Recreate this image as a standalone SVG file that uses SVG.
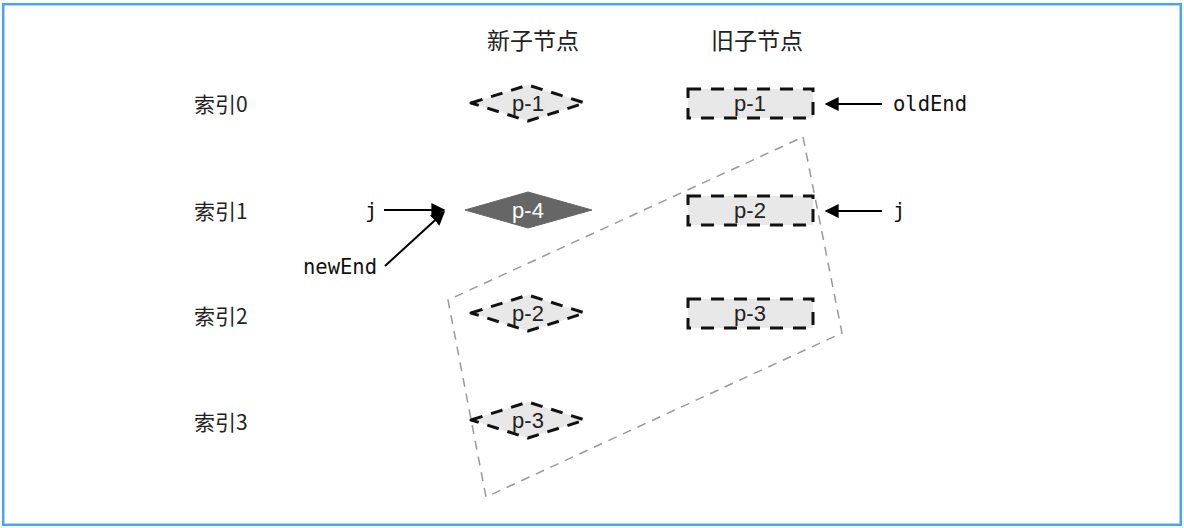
<svg xmlns="http://www.w3.org/2000/svg" width="1184" height="528" viewBox="0 0 1184 528">
  <defs>
    <marker id="arrowBig" viewBox="0 0 10 10" refX="9" refY="5" markerWidth="14" markerHeight="14" orient="auto" markerUnits="userSpaceOnUse">
      <path d="M0,0 L10,5 L0,10 Z" fill="#000"/>
    </marker>
  </defs>
  <style>
    .cjk { font-family: "Noto Sans CJK SC", "Noto Sans", sans-serif; fill: #222; }
    .head { font-size: 23px; text-anchor: middle; }
    .idx { font-size: 21px; }
    .mono { font-family: "DejaVu Sans Mono", "Liberation Mono", monospace; font-size: 20.5px; fill: #111; }
    .lbl { font-family: "Liberation Sans", Arial, sans-serif; font-size: 22px; fill: #222; text-anchor: middle; }
    .lblw { font-family: "Liberation Sans", Arial, sans-serif; font-size: 22px; fill: #fff; text-anchor: middle; }
    .dnode { fill: #e8e8e8; stroke: #111; stroke-width: 3; stroke-dasharray: 13 10; }
    .diam { stroke-linejoin: round; stroke-dasharray: 12 9; }
    .solid { fill: #666; stroke: #666; stroke-width: 1; }
    .conn { stroke: #000; stroke-width: 2; fill: none; }
    .group { fill: none; stroke: #999; stroke-width: 1.5; stroke-dasharray: 9 7; }
  </style>

  <rect x="0" y="0" width="1184" height="528" fill="#fff"/>
  <rect x="3.2" y="4.2" width="1177.6" height="520.6" fill="none" stroke="#4aa3ef" stroke-width="2.5"/>

  <!-- column headers -->
  <g id="headers">
    <text class="cjk head" x="533" y="49">新子节点</text>
    <text class="cjk head" x="757" y="49">旧子节点</text>
  </g>

  <!-- row indices -->
  <g id="indices">
    <text class="cjk idx" x="194" y="112">索引0</text>
    <text class="cjk idx" x="194" y="219">索引1</text>
    <text class="cjk idx" x="194" y="324">索引2</text>
    <text class="cjk idx" x="194" y="430">索引3</text>
  </g>

  <!-- dashed region around the unprocessed range -->
  <g id="range">
    <polygon class="group" points="803,137 842,333 486,497 448,300"/>
  </g>

  <!-- new children -->
  <g id="new-p1">
    <polygon class="dnode diam" points="471,103 528,85 585,103 528,121"/>
    <text class="lbl" x="528" y="111">p-1</text>
  </g>
  <g id="new-p4">
    <polygon class="solid" points="465,210 528,192 592,210 528,228"/>
    <text class="lblw" x="528" y="218">p-4</text>
  </g>
  <g id="new-p2">
    <polygon class="dnode diam" points="471,313 528,295 585,313 528,331"/>
    <text class="lbl" x="528" y="321">p-2</text>
  </g>
  <g id="new-p3">
    <polygon class="dnode diam" points="471,420 528,402 585,420 528,438"/>
    <text class="lbl" x="528" y="428">p-3</text>
  </g>

  <!-- old children -->
  <g id="old-p1">
    <rect class="dnode" x="688" y="89" width="125" height="29"/>
    <text class="lbl" x="750" y="111">p-1</text>
  </g>
  <g id="old-p2">
    <rect class="dnode" x="688" y="196" width="125" height="29"/>
    <text class="lbl" x="750" y="218">p-2</text>
  </g>
  <g id="old-p3">
    <rect class="dnode" x="688" y="299" width="125" height="29"/>
    <text class="lbl" x="750" y="321">p-3</text>
  </g>

  <!-- pointer labels -->
  <g id="pointers">
    <text class="mono" x="893" y="111">oldEnd</text>
    <text class="mono" x="893" y="218">j</text>
    <text class="mono" x="365" y="218">j</text>
    <text class="mono" x="303" y="274">newEnd</text>
  </g>

  <!-- connectors -->
  <g id="connectors">
    <line class="conn" x1="882" y1="104" x2="826" y2="104" marker-end="url(#arrowBig)"/>
    <line class="conn" x1="882" y1="211" x2="826" y2="211" marker-end="url(#arrowBig)"/>
    <line class="conn" x1="384" y1="210" x2="444" y2="210" marker-end="url(#arrowBig)"/>
    <line class="conn" x1="385" y1="266" x2="444" y2="212" marker-end="url(#arrowBig)"/>
  </g>
</svg>
